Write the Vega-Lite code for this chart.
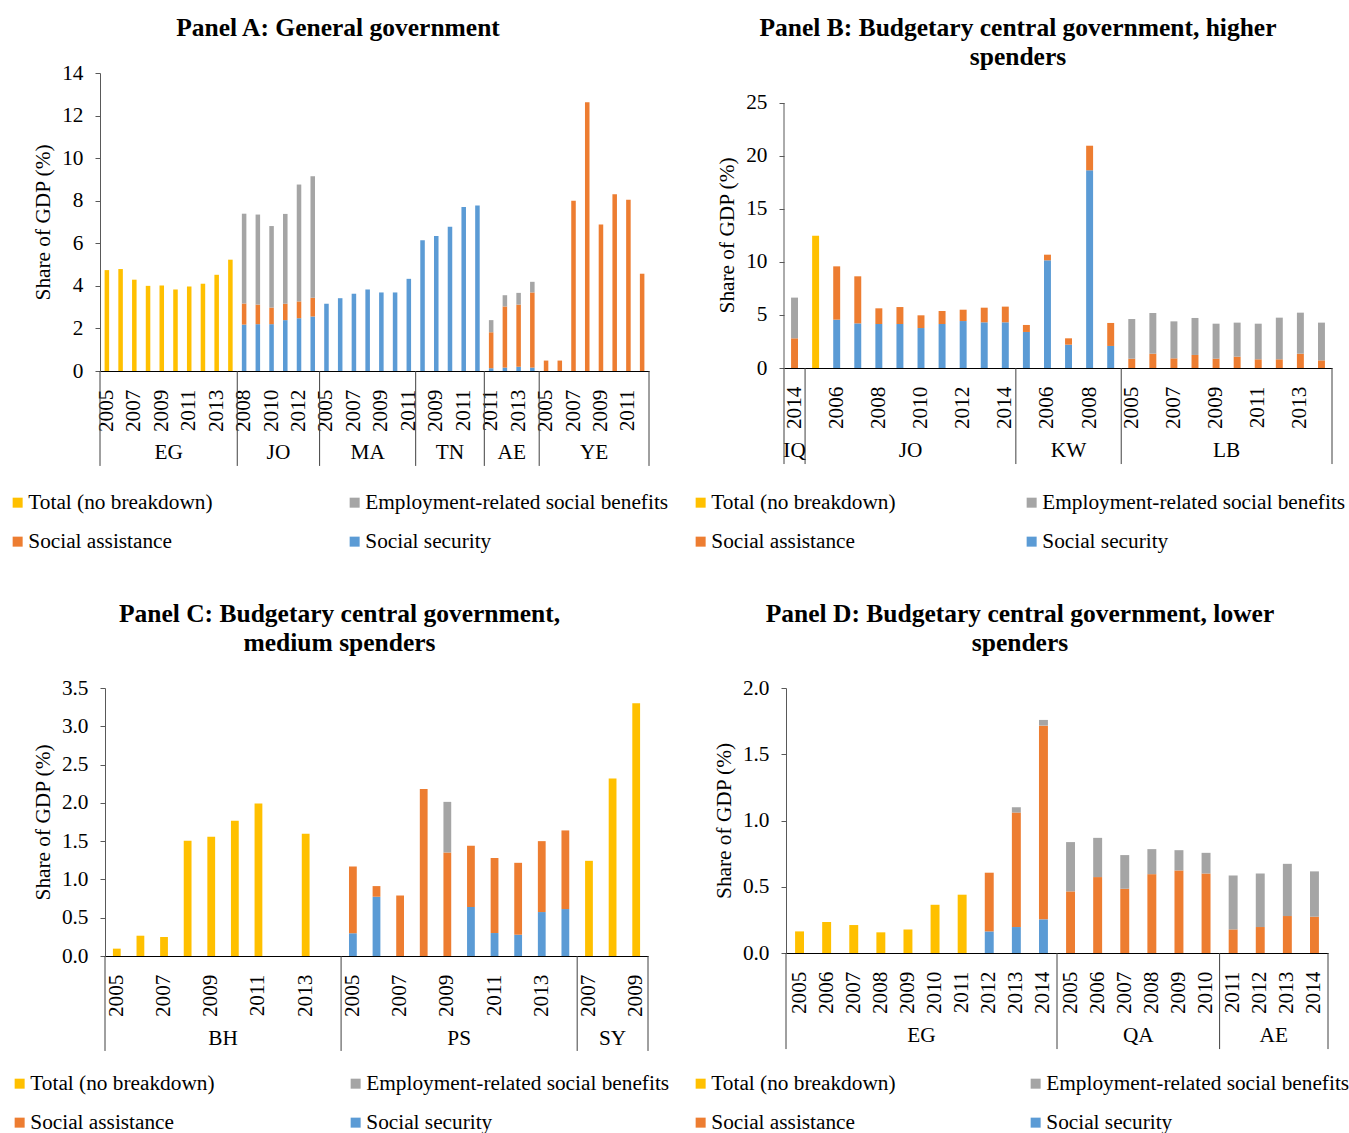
{
  "$schema": "https://vega.github.io/schema/vega-lite/v6.json",
  "background": "white",
  "padding": {"top": 15, "left": 7, "right": 0, "bottom": 0},
  "datasets": {
    "A": [
      {"k":"EG 2005","t":"Total (no breakdown)","v":4.74},
      {"k":"EG 2006","t":"Total (no breakdown)","v":4.79},
      {"k":"EG 2007","t":"Total (no breakdown)","v":4.29},
      {"k":"EG 2008","t":"Total (no breakdown)","v":4.00},
      {"k":"EG 2009","t":"Total (no breakdown)","v":4.02},
      {"k":"EG 2010","t":"Total (no breakdown)","v":3.83},
      {"k":"EG 2011","t":"Total (no breakdown)","v":3.97},
      {"k":"EG 2012","t":"Total (no breakdown)","v":4.10},
      {"k":"EG 2013","t":"Total (no breakdown)","v":4.52},
      {"k":"EG 2014","t":"Total (no breakdown)","v":5.23},
      {"k":"JO 2008","t":"Social security","v":2.18},
      {"k":"JO 2008","t":"Social assistance","v":0.99},
      {"k":"JO 2008","t":"Employment-related social benefits","v":4.22},
      {"k":"JO 2009","t":"Social security","v":2.20},
      {"k":"JO 2009","t":"Social assistance","v":0.92},
      {"k":"JO 2009","t":"Employment-related social benefits","v":4.23},
      {"k":"JO 2010","t":"Social security","v":2.20},
      {"k":"JO 2010","t":"Social assistance","v":0.78},
      {"k":"JO 2010","t":"Employment-related social benefits","v":3.83},
      {"k":"JO 2011","t":"Social security","v":2.39},
      {"k":"JO 2011","t":"Social assistance","v":0.77},
      {"k":"JO 2011","t":"Employment-related social benefits","v":4.22},
      {"k":"JO 2012","t":"Social security","v":2.48},
      {"k":"JO 2012","t":"Social assistance","v":0.79},
      {"k":"JO 2012","t":"Employment-related social benefits","v":5.49},
      {"k":"JO 2013","t":"Social security","v":2.56},
      {"k":"JO 2013","t":"Social assistance","v":0.88},
      {"k":"JO 2013","t":"Employment-related social benefits","v":5.71},
      {"k":"MA 2005","t":"Social security","v":3.16},
      {"k":"MA 2006","t":"Social security","v":3.42},
      {"k":"MA 2007","t":"Social security","v":3.63},
      {"k":"MA 2008","t":"Social security","v":3.83},
      {"k":"MA 2009","t":"Social security","v":3.69},
      {"k":"MA 2010","t":"Social security","v":3.69},
      {"k":"MA 2011","t":"Social security","v":4.33},
      {"k":"TN 2008","t":"Social security","v":6.14},
      {"k":"TN 2009","t":"Social security","v":6.34},
      {"k":"TN 2010","t":"Social security","v":6.78},
      {"k":"TN 2011","t":"Social security","v":7.71},
      {"k":"TN 2012","t":"Social security","v":7.77},
      {"k":"AE 2011","t":"Social security","v":0.13},
      {"k":"AE 2011","t":"Social assistance","v":1.69},
      {"k":"AE 2011","t":"Employment-related social benefits","v":0.57},
      {"k":"AE 2012","t":"Social security","v":0.16},
      {"k":"AE 2012","t":"Social assistance","v":2.87},
      {"k":"AE 2012","t":"Employment-related social benefits","v":0.53},
      {"k":"AE 2013","t":"Social security","v":0.20},
      {"k":"AE 2013","t":"Social assistance","v":2.92},
      {"k":"AE 2013","t":"Employment-related social benefits","v":0.55},
      {"k":"AE 2014","t":"Social security","v":0.16},
      {"k":"AE 2014","t":"Social assistance","v":3.53},
      {"k":"AE 2014","t":"Employment-related social benefits","v":0.50},
      {"k":"YE 2005","t":"Social assistance","v":0.49},
      {"k":"YE 2006","t":"Social assistance","v":0.49},
      {"k":"YE 2007","t":"Social assistance","v":8.00},
      {"k":"YE 2008","t":"Social assistance","v":12.62},
      {"k":"YE 2009","t":"Social assistance","v":6.88},
      {"k":"YE 2010","t":"Social assistance","v":8.30},
      {"k":"YE 2011","t":"Social assistance","v":8.05},
      {"k":"YE 2012","t":"Social assistance","v":4.57}
    ],
    "B": [
      {"k":"IQ 2014","t":"Social assistance","v":2.80},
      {"k":"IQ 2014","t":"Employment-related social benefits","v":3.84},
      {"k":"JO 2005","t":"Total (no breakdown)","v":12.48},
      {"k":"JO 2006","t":"Social security","v":4.56},
      {"k":"JO 2006","t":"Social assistance","v":5.03},
      {"k":"JO 2007","t":"Social security","v":4.21},
      {"k":"JO 2007","t":"Social assistance","v":4.44},
      {"k":"JO 2008","t":"Social security","v":4.15},
      {"k":"JO 2008","t":"Social assistance","v":1.48},
      {"k":"JO 2009","t":"Social security","v":4.15},
      {"k":"JO 2009","t":"Social assistance","v":1.60},
      {"k":"JO 2010","t":"Social security","v":3.77},
      {"k":"JO 2010","t":"Social assistance","v":1.20},
      {"k":"JO 2011","t":"Social security","v":4.15},
      {"k":"JO 2011","t":"Social assistance","v":1.23},
      {"k":"JO 2012","t":"Social security","v":4.43},
      {"k":"JO 2012","t":"Social assistance","v":1.07},
      {"k":"JO 2013","t":"Social security","v":4.31},
      {"k":"JO 2013","t":"Social assistance","v":1.38},
      {"k":"JO 2014","t":"Social security","v":4.31},
      {"k":"JO 2014","t":"Social assistance","v":1.48},
      {"k":"KW 2005","t":"Social security","v":3.40},
      {"k":"KW 2005","t":"Social assistance","v":0.66},
      {"k":"KW 2006","t":"Social security","v":10.16},
      {"k":"KW 2006","t":"Social assistance","v":0.53},
      {"k":"KW 2007","t":"Social security","v":2.20},
      {"k":"KW 2007","t":"Social assistance","v":0.60},
      {"k":"KW 2008","t":"Social security","v":18.65},
      {"k":"KW 2008","t":"Social assistance","v":2.32},
      {"k":"KW 2009","t":"Social security","v":2.08},
      {"k":"KW 2009","t":"Social assistance","v":2.17},
      {"k":"LB 2005","t":"Social assistance","v":0.88},
      {"k":"LB 2005","t":"Employment-related social benefits","v":3.74},
      {"k":"LB 2006","t":"Social assistance","v":1.35},
      {"k":"LB 2006","t":"Employment-related social benefits","v":3.84},
      {"k":"LB 2007","t":"Social assistance","v":0.91},
      {"k":"LB 2007","t":"Employment-related social benefits","v":3.49},
      {"k":"LB 2008","t":"Social assistance","v":1.23},
      {"k":"LB 2008","t":"Employment-related social benefits","v":3.49},
      {"k":"LB 2009","t":"Social assistance","v":0.88},
      {"k":"LB 2009","t":"Employment-related social benefits","v":3.30},
      {"k":"LB 2010","t":"Social assistance","v":1.07},
      {"k":"LB 2010","t":"Employment-related social benefits","v":3.21},
      {"k":"LB 2011","t":"Social assistance","v":0.82},
      {"k":"LB 2011","t":"Employment-related social benefits","v":3.36},
      {"k":"LB 2012","t":"Social assistance","v":0.82},
      {"k":"LB 2012","t":"Employment-related social benefits","v":3.93},
      {"k":"LB 2013","t":"Social assistance","v":1.35},
      {"k":"LB 2013","t":"Employment-related social benefits","v":3.87},
      {"k":"LB 2014","t":"Social assistance","v":0.72},
      {"k":"LB 2014","t":"Employment-related social benefits","v":3.56}
    ],
    "C": [
      {"k":"BH 2005","t":"Total (no breakdown)","v":0.096},
      {"k":"BH 2006","t":"Total (no breakdown)","v":0.265},
      {"k":"BH 2007","t":"Total (no breakdown)","v":0.248},
      {"k":"BH 2008","t":"Total (no breakdown)","v":1.504},
      {"k":"BH 2009","t":"Total (no breakdown)","v":1.557},
      {"k":"BH 2010","t":"Total (no breakdown)","v":1.765},
      {"k":"BH 2011","t":"Total (no breakdown)","v":1.99},
      {"k":"BH 2013","t":"Total (no breakdown)","v":1.596},
      {"k":"PS 2005","t":"Social security","v":0.296},
      {"k":"PS 2005","t":"Social assistance","v":0.874},
      {"k":"PS 2006","t":"Social security","v":0.774},
      {"k":"PS 2006","t":"Social assistance","v":0.139},
      {"k":"PS 2007","t":"Social assistance","v":0.79},
      {"k":"PS 2008","t":"Social assistance","v":2.18},
      {"k":"PS 2009","t":"Social assistance","v":1.352},
      {"k":"PS 2009","t":"Employment-related social benefits","v":0.661},
      {"k":"PS 2010","t":"Social security","v":0.64},
      {"k":"PS 2010","t":"Social assistance","v":0.80},
      {"k":"PS 2011","t":"Social security","v":0.30},
      {"k":"PS 2011","t":"Social assistance","v":0.98},
      {"k":"PS 2012","t":"Social security","v":0.278},
      {"k":"PS 2012","t":"Social assistance","v":0.939},
      {"k":"PS 2013","t":"Social security","v":0.574},
      {"k":"PS 2013","t":"Social assistance","v":0.926},
      {"k":"PS 2014","t":"Social security","v":0.613},
      {"k":"PS 2014","t":"Social assistance","v":1.027},
      {"k":"SY 2007","t":"Total (no breakdown)","v":1.243},
      {"k":"SY 2008","t":"Total (no breakdown)","v":2.317},
      {"k":"SY 2009","t":"Total (no breakdown)","v":3.30}
    ],
    "D": [
      {"k":"EG 2005","t":"Total (no breakdown)","v":0.163},
      {"k":"EG 2006","t":"Total (no breakdown)","v":0.234},
      {"k":"EG 2007","t":"Total (no breakdown)","v":0.211},
      {"k":"EG 2008","t":"Total (no breakdown)","v":0.156},
      {"k":"EG 2009","t":"Total (no breakdown)","v":0.178},
      {"k":"EG 2010","t":"Total (no breakdown)","v":0.364},
      {"k":"EG 2011","t":"Total (no breakdown)","v":0.44},
      {"k":"EG 2012","t":"Social security","v":0.163},
      {"k":"EG 2012","t":"Social assistance","v":0.443},
      {"k":"EG 2013","t":"Social security","v":0.196},
      {"k":"EG 2013","t":"Social assistance","v":0.864},
      {"k":"EG 2013","t":"Employment-related social benefits","v":0.04},
      {"k":"EG 2014","t":"Social security","v":0.254},
      {"k":"EG 2014","t":"Social assistance","v":1.462},
      {"k":"EG 2014","t":"Employment-related social benefits","v":0.043},
      {"k":"QA 2005","t":"Social assistance","v":0.465},
      {"k":"QA 2005","t":"Employment-related social benefits","v":0.372},
      {"k":"QA 2006","t":"Social assistance","v":0.573},
      {"k":"QA 2006","t":"Employment-related social benefits","v":0.296},
      {"k":"QA 2007","t":"Social assistance","v":0.485},
      {"k":"QA 2007","t":"Employment-related social benefits","v":0.254},
      {"k":"QA 2008","t":"Social assistance","v":0.595},
      {"k":"QA 2008","t":"Employment-related social benefits","v":0.189},
      {"k":"QA 2009","t":"Social assistance","v":0.623},
      {"k":"QA 2009","t":"Employment-related social benefits","v":0.153},
      {"k":"QA 2010","t":"Social assistance","v":0.60},
      {"k":"QA 2010","t":"Employment-related social benefits","v":0.156},
      {"k":"AE 2011","t":"Social assistance","v":0.178},
      {"k":"AE 2011","t":"Employment-related social benefits","v":0.407},
      {"k":"AE 2012","t":"Social assistance","v":0.196},
      {"k":"AE 2012","t":"Employment-related social benefits","v":0.404},
      {"k":"AE 2013","t":"Social assistance","v":0.279},
      {"k":"AE 2013","t":"Employment-related social benefits","v":0.394},
      {"k":"AE 2014","t":"Social assistance","v":0.274},
      {"k":"AE 2014","t":"Employment-related social benefits","v":0.342}
    ]
  },
  "resolve": {"scale": {"x": "independent", "y": "independent", "color": "independent"}, "legend": {"color": "independent"}, "axis": {"x": "independent", "y": "independent"}},
  "spacing": 49,
  "vconcat": [
    {
      "spacing": 21,
      "resolve": {"scale": {"x": "independent", "y": "independent", "color": "independent"}, "legend": {"color": "independent"}, "axis": {"x": "independent", "y": "independent"}},
      "hconcat": [
        {
          "title": {"text": "Panel A: General government", "offset": 21},
          "width": 549, "height": 298,
          "layer": [
            {
              "data": {"name": "A"},
              "mark": {"type": "bar", "width": {"band": 0.33}},
              "encoding": {
                "x": {"field": "k", "type": "nominal", "title": null,
                  "scale": {"paddingInner": 0, "paddingOuter": 0, "domain": ["EG 2005","EG 2006","EG 2007","EG 2008","EG 2009","EG 2010","EG 2011","EG 2012","EG 2013","EG 2014","JO 2008","JO 2009","JO 2010","JO 2011","JO 2012","JO 2013","MA 2005","MA 2006","MA 2007","MA 2008","MA 2009","MA 2010","MA 2011","TN 2008","TN 2009","TN 2010","TN 2011","TN 2012","AE 2011","AE 2012","AE 2013","AE 2014","YE 2005","YE 2006","YE 2007","YE 2008","YE 2009","YE 2010","YE 2011","YE 2012"]},
                  "axis": {"labelExpr": "((split(datum.value,' ')[0]=='JO') == (toNumber(split(datum.value,' ')[1])%2==0)) ? split(datum.value,' ')[1] : ''"}},
                "y": {"field": "v", "type": "quantitative", "stack": "zero",
                  "scale": {"domain": [0, 14], "nice": false},
                  "axis": {"values": [0,2,4,6,8,10,12,14], "title": "Share of GDP (%)", "labelOverlap": false}},
                "color": {"field": "t", "type": "nominal",
                  "scale": {"domain": ["Total (no breakdown)","Employment-related social benefits","Social assistance","Social security"], "range": ["#FFC000","#A5A5A5","#ED7D31","#5B9BD5"]},
                  "legend": {"title": null, "legendX": -93, "legendY": 419, "columnPadding": 131}},
                "order": {"field": "t", "sort": "descending"}
              }
            },
            {
              "data": {"values": [{"k":"EG 2005"},{"k":"JO 2008"},{"k":"MA 2005"},{"k":"TN 2008"},{"k":"AE 2011"},{"k":"YE 2005"}]},
              "mark": {"type": "rule", "color": "#404040", "strokeWidth": 1},
              "encoding": {
                "x": {"field": "k", "type": "nominal", "bandPosition": 0, "title": null},
                "y": {"datum": 0, "scale": {"domain": [0, 14], "nice": false}, "title": "Share of GDP (%)"},
                "y2": {"datum": -4.46}
              }
            },
            {
              "data": {"values": [{"k":"YE 2012"}]},
              "mark": {"type": "rule", "color": "#404040", "strokeWidth": 1},
              "encoding": {
                "x": {"field": "k", "type": "nominal", "bandPosition": 1, "title": null},
                "y": {"datum": 0, "scale": {"domain": [0, 14], "nice": false}, "title": "Share of GDP (%)"},
                "y2": {"datum": -4.46}
              }
            },
            {
              "data": {"values": [{"k":"EG 2010","c":"EG"},{"k":"JO 2011","c":"JO"},{"k":"AE 2013","c":"AE"},{"k":"YE 2009","c":"YE"}]},
              "mark": {"type": "text", "font": "Liberation Serif", "fontSize": 21.3, "color": "#000", "baseline": "middle"},
              "encoding": {
                "x": {"field": "k", "type": "nominal", "bandPosition": 0, "title": null},
                "y": {"datum": -3.85, "scale": {"domain": [0, 14], "nice": false}, "title": "Share of GDP (%)"},
                "text": {"field": "c"}
              }
            },
            {
              "data": {"values": [{"k":"MA 2008","c":"MA"},{"k":"TN 2010","c":"TN"}]},
              "mark": {"type": "text", "font": "Liberation Serif", "fontSize": 21.3, "color": "#000", "baseline": "middle"},
              "encoding": {
                "x": {"field": "k", "type": "nominal", "bandPosition": 0.5, "title": null},
                "y": {"datum": -3.85, "scale": {"domain": [0, 14], "nice": false}, "title": "Share of GDP (%)"},
                "text": {"field": "c"}
              }
            }
          ]
        },
        {
          "title": {"text": ["Panel B: Budgetary central government, higher", "spenders"], "offset": 3},
          "width": 548, "height": 295,
          "layer": [
            {
              "data": {"name": "B"},
              "mark": {"type": "bar", "width": {"band": 0.33}},
              "encoding": {
                "x": {"field": "k", "type": "nominal", "title": null,
                  "scale": {"paddingInner": 0, "paddingOuter": 0, "domain": ["IQ 2014","JO 2005","JO 2006","JO 2007","JO 2008","JO 2009","JO 2010","JO 2011","JO 2012","JO 2013","JO 2014","KW 2005","KW 2006","KW 2007","KW 2008","KW 2009","LB 2005","LB 2006","LB 2007","LB 2008","LB 2009","LB 2010","LB 2011","LB 2012","LB 2013","LB 2014"]},
                  "axis": {"labelExpr": "((split(datum.value,' ')[0]=='LB') != (toNumber(split(datum.value,' ')[1])%2==0)) ? split(datum.value,' ')[1] : ''"}},
                "y": {"field": "v", "type": "quantitative", "stack": "zero",
                  "scale": {"domain": [0, 27.83], "nice": false},
                  "axis": {"values": [0,5,10,15,20,25], "title": "Share of GDP (%)", "domain": false, "titleY": 162, "labelOverlap": false}},
                "color": {"field": "t", "type": "nominal",
                  "scale": {"domain": ["Total (no breakdown)","Employment-related social benefits","Social assistance","Social security"], "range": ["#FFC000","#A5A5A5","#ED7D31","#5B9BD5"]},
                  "legend": {"title": null, "legendX": -94, "legendY": 419, "columnPadding": 125}},
                "order": {"field": "t", "sort": "descending"}
              }
            },
            {
              "data": {"values": [{"k":"IQ 2014"}]},
              "mark": {"type": "rule", "color": "#595959", "strokeWidth": 1},
              "encoding": {
                "x": {"field": "k", "type": "nominal", "bandPosition": 0, "title": null},
                "y": {"datum": 0, "scale": {"domain": [0, 27.83], "nice": false}, "title": "Share of GDP (%)"},
                "y2": {"datum": 25}
              }
            },
            {
              "data": {"values": [{"k":"IQ 2014"},{"k":"JO 2005"},{"k":"KW 2005"},{"k":"LB 2005"}]},
              "mark": {"type": "rule", "color": "#404040", "strokeWidth": 1},
              "encoding": {
                "x": {"field": "k", "type": "nominal", "bandPosition": 0, "title": null},
                "y": {"datum": 0, "scale": {"domain": [0, 27.83], "nice": false}, "title": "Share of GDP (%)"},
                "y2": {"datum": -9.06}
              }
            },
            {
              "data": {"values": [{"k":"LB 2014"}]},
              "mark": {"type": "rule", "color": "#404040", "strokeWidth": 1},
              "encoding": {
                "x": {"field": "k", "type": "nominal", "bandPosition": 1, "title": null},
                "y": {"datum": 0, "scale": {"domain": [0, 27.83], "nice": false}, "title": "Share of GDP (%)"},
                "y2": {"datum": -9.06}
              }
            },
            {
              "data": {"values": [{"k":"JO 2010","c":"JO"},{"k":"LB 2010","c":"LB"}]},
              "mark": {"type": "text", "font": "Liberation Serif", "fontSize": 21.3, "color": "#000", "baseline": "middle"},
              "encoding": {
                "x": {"field": "k", "type": "nominal", "bandPosition": 0, "title": null},
                "y": {"datum": -7.83, "scale": {"domain": [0, 27.83], "nice": false}, "title": "Share of GDP (%)"},
                "text": {"field": "c"}
              }
            },
            {
              "data": {"values": [{"k":"IQ 2014","c":"IQ"},{"k":"KW 2007","c":"KW"}]},
              "mark": {"type": "text", "font": "Liberation Serif", "fontSize": 21.3, "color": "#000", "baseline": "middle"},
              "encoding": {
                "x": {"field": "k", "type": "nominal", "bandPosition": 0.5, "title": null},
                "y": {"datum": -7.83, "scale": {"domain": [0, 27.83], "nice": false}, "title": "Share of GDP (%)"},
                "text": {"field": "c"}
              }
            }
          ]
        }
      ]
    },
    {
      "spacing": 20,
      "resolve": {"scale": {"x": "independent", "y": "independent", "color": "independent"}, "legend": {"color": "independent"}, "axis": {"x": "independent", "y": "independent"}},
      "hconcat": [
        {
          "title": {"text": ["Panel C: Budgetary central government,", "medium spenders"], "offset": 21},
          "width": 548, "height": 268,
          "layer": [
            {
              "data": {"name": "C"},
              "mark": {"type": "bar", "width": {"band": 0.33}},
              "encoding": {
                "x": {"field": "k", "type": "nominal", "title": null,
                  "scale": {"paddingInner": 0, "paddingOuter": 0, "range": [5, 548], "domain": ["BH 2005","BH 2006","BH 2007","BH 2008","BH 2009","BH 2010","BH 2011","BH 2012","BH 2013","BH 2014","PS 2005","PS 2006","PS 2007","PS 2008","PS 2009","PS 2010","PS 2011","PS 2012","PS 2013","PS 2014","SY 2007","SY 2008","SY 2009"]},
                  "axis": {"labelExpr": "(toNumber(split(datum.value,' ')[1])%2==1) ? split(datum.value,' ')[1] : ''"}},
                "y": {"field": "v", "type": "quantitative", "stack": "zero",
                  "scale": {"domain": [0, 3.5], "nice": false},
                  "axis": {"values": [0,0.5,1,1.5,2,2.5,3,3.5], "format": ".1f", "title": "Share of GDP (%)", "offset": -5, "labelOverlap": false}},
                "color": {"field": "t", "type": "nominal",
                  "scale": {"domain": ["Total (no breakdown)","Employment-related social benefits","Social assistance","Social security"], "range": ["#FFC000","#A5A5A5","#ED7D31","#5B9BD5"]},
                  "legend": {"title": null, "legendX": -91, "legendY": 385, "columnPadding": 130}},
                "order": {"field": "t", "sort": "descending"}
              }
            },
            {
              "data": {"values": [{"k":"BH 2005"},{"k":"PS 2005"},{"k":"SY 2007"}]},
              "mark": {"type": "rule", "color": "#404040", "strokeWidth": 1},
              "encoding": {
                "x": {"field": "k", "type": "nominal", "bandPosition": 0, "title": null},
                "y": {"datum": 0, "scale": {"domain": [0, 3.5], "nice": false}, "axis": {"values": [0,0.5,1,1.5,2,2.5,3,3.5], "format": ".1f", "title": "Share of GDP (%)", "offset": -5, "labelOverlap": false}},
                "y2": {"datum": -1.24}
              }
            },
            {
              "data": {"values": [{"k":"SY 2009"}]},
              "mark": {"type": "rule", "color": "#404040", "strokeWidth": 1},
              "encoding": {
                "x": {"field": "k", "type": "nominal", "bandPosition": 1, "title": null},
                "y": {"datum": 0, "scale": {"domain": [0, 3.5], "nice": false}, "axis": {"values": [0,0.5,1,1.5,2,2.5,3,3.5], "format": ".1f", "title": "Share of GDP (%)", "offset": -5, "labelOverlap": false}},
                "y2": {"datum": -1.24}
              }
            },
            {
              "data": {"values": [{"k":"BH 2010","c":"BH"},{"k":"PS 2010","c":"PS"}]},
              "mark": {"type": "text", "font": "Liberation Serif", "fontSize": 21.3, "color": "#000", "baseline": "middle"},
              "encoding": {
                "x": {"field": "k", "type": "nominal", "bandPosition": 0, "title": null},
                "y": {"datum": -1.084, "scale": {"domain": [0, 3.5], "nice": false}, "axis": {"values": [0,0.5,1,1.5,2,2.5,3,3.5], "format": ".1f", "title": "Share of GDP (%)", "offset": -5, "labelOverlap": false}},
                "text": {"field": "c"}
              }
            },
            {
              "data": {"values": [{"k":"SY 2008","c":"SY"}]},
              "mark": {"type": "text", "font": "Liberation Serif", "fontSize": 21.3, "color": "#000", "baseline": "middle"},
              "encoding": {
                "x": {"field": "k", "type": "nominal", "bandPosition": 0.5, "title": null},
                "y": {"datum": -1.084, "scale": {"domain": [0, 3.5], "nice": false}, "axis": {"values": [0,0.5,1,1.5,2,2.5,3,3.5], "format": ".1f", "title": "Share of GDP (%)", "offset": -5, "labelOverlap": false}},
                "text": {"field": "c"}
              }
            }
          ]
        },
        {
          "title": {"text": ["Panel D: Budgetary central government, lower", "spenders"], "offset": 21},
          "width": 547, "height": 265,
          "layer": [
            {
              "data": {"name": "D"},
              "mark": {"type": "bar", "width": {"band": 0.33}},
              "encoding": {
                "x": {"field": "k", "type": "nominal", "title": null,
                  "scale": {"paddingInner": 0, "paddingOuter": 0, "range": [5, 547], "domain": ["EG 2005","EG 2006","EG 2007","EG 2008","EG 2009","EG 2010","EG 2011","EG 2012","EG 2013","EG 2014","QA 2005","QA 2006","QA 2007","QA 2008","QA 2009","QA 2010","AE 2011","AE 2012","AE 2013","AE 2014"]},
                  "axis": {"labelExpr": "split(datum.value,' ')[1]"}},
                "y": {"field": "v", "type": "quantitative", "stack": "zero",
                  "scale": {"domain": [0, 2], "nice": false},
                  "axis": {"values": [0,0.5,1,1.5,2], "format": ".1f", "title": "Share of GDP (%)", "offset": -5, "labelOverlap": false}},
                "color": {"field": "t", "type": "nominal",
                  "scale": {"domain": ["Total (no breakdown)","Employment-related social benefits","Social assistance","Social security"], "range": ["#FFC000","#A5A5A5","#ED7D31","#5B9BD5"]},
                  "legend": {"title": null, "legendX": -91, "legendY": 385, "columnPadding": 129}},
                "order": {"field": "t", "sort": "descending"}
              }
            },
            {
              "data": {"values": [{"k":"EG 2005"},{"k":"QA 2005"},{"k":"AE 2011"}]},
              "mark": {"type": "rule", "color": "#404040", "strokeWidth": 1},
              "encoding": {
                "x": {"field": "k", "type": "nominal", "bandPosition": 0, "title": null},
                "y": {"datum": 0, "scale": {"domain": [0, 2], "nice": false}, "title": "Share of GDP (%)"},
                "y2": {"datum": -0.725}
              }
            },
            {
              "data": {"values": [{"k":"AE 2014"}]},
              "mark": {"type": "rule", "color": "#404040", "strokeWidth": 1},
              "encoding": {
                "x": {"field": "k", "type": "nominal", "bandPosition": 1, "title": null},
                "y": {"datum": 0, "scale": {"domain": [0, 2], "nice": false}, "title": "Share of GDP (%)"},
                "y2": {"datum": -0.725}
              }
            },
            {
              "data": {"values": [{"k":"EG 2010","c":"EG"},{"k":"QA 2008","c":"QA"},{"k":"AE 2013","c":"AE"}]},
              "mark": {"type": "text", "font": "Liberation Serif", "fontSize": 21.3, "color": "#000", "baseline": "middle"},
              "encoding": {
                "x": {"field": "k", "type": "nominal", "bandPosition": 0, "title": null},
                "y": {"datum": -0.626, "scale": {"domain": [0, 2], "nice": false}, "title": "Share of GDP (%)"},
                "text": {"field": "c"}
              }
            }
          ]
        }
      ]
    }
  ],
  "config": {
    "view": {"stroke": null},
    "font": "Liberation Serif",
    "title": {"font": "Liberation Serif", "fontSize": 25.5, "fontWeight": "bold", "color": "#000", "anchor": "middle", "frame": "bounds", "lineHeight": 29},
    "axis": {"labelFont": "Liberation Serif", "titleFont": "Liberation Serif", "labelColor": "#000", "titleColor": "#000", "labelFontSize": 21.3, "titleFontSize": 21.3, "titleFontWeight": "normal", "grid": false},
    "axisX": {"ticks": false, "labelAngle": -90, "labelPadding": 18, "domainColor": "#000", "labelOverlap": false},
    "axisY": {"tickSize": 5, "tickColor": "#595959", "domainColor": "#595959", "labelPadding": 12, "titlePadding": 8, "labelOverlap": false},
    "legend": {"orient": "none", "direction": "horizontal", "columns": 2, "rowPadding": 17, "symbolType": "square", "symbolSize": 100, "symbolStrokeWidth": 0, "labelFont": "Liberation Serif", "labelFontSize": 21.3, "labelColor": "#000", "labelLimit": 400, "labelOffset": 0}
  }
}
